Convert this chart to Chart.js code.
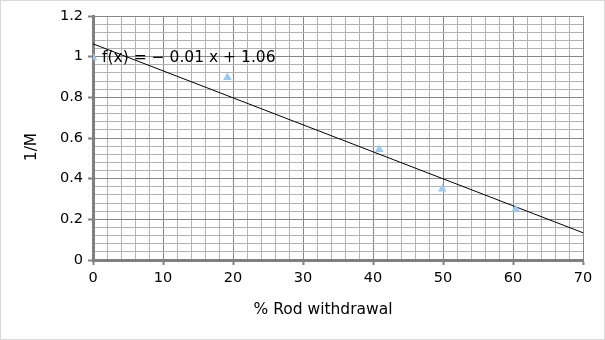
<!DOCTYPE html>
<html>
<head>
<meta charset="utf-8">
<script src="https://cdn.jsdelivr.net/npm/chart.js@4"></script>
<style>
  body { margin: 0; background: #fff; }
</style>
</head>
<body>
<canvas id="chart" width="605" height="340"></canvas>
<script>
// data
let rod_x = [0, 19.2, 40.9, 49.9, 60.4];
let inv_m = [0.995, 0.897, 0.544, 0.349, 0.249];
// trend line end points
let trend_x = [0, 70];
let trend_y = [1.063, 0.134];
let eq_text = 'f(x) = \u2212 0.01 x + 1.06';
let eq_pos = [1.3, 0.993];
let x_title = '% Rod withdrawal';
let y_title = '1/M';

var pts = [];
for (let i = 0; i < rod_x.length; i++) {
    pts.push({ x: rod_x[i], y: inv_m[i] });
}
var trend = [];
for (let i = 0; i < trend_x.length; i++) {
    trend.push({ x: trend_x[i], y: trend_y[i] });
}

function isMajor(v, step) {
    return Math.abs(v / step - Math.round(v / step)) < 1e-6;
}

// frame, axis titles, equation text
var extras = {
    id: 'extras',
    beforeDraw: function (chart) {
        var c = chart.ctx;
        c.save();
        c.strokeStyle = '#d9d9d9';
        c.lineWidth = 1;
        c.strokeRect(0.5, 0.5, 604, 339);
        c.fillStyle = '#000';
        c.font = '15.5px "DejaVu Sans"';
        c.textAlign = 'center';
        c.textBaseline = 'middle';
        c.fillText(x_title, 323, 310);
        c.translate(32, 147);
        c.rotate(-Math.PI / 2);
        c.fillText(y_title, 0, 0);
        c.restore();
    },
    afterDatasetsDraw: function (chart) {
        var c = chart.ctx;
        c.save();
        c.font = '15.5px "DejaVu Sans"';
        c.fillStyle = '#000';
        c.textBaseline = 'middle';
        c.fillText(eq_text, chart.scales.x.getPixelForValue(eq_pos[0]), chart.scales.y.getPixelForValue(eq_pos[1]));
        c.restore();
    }
};

let context = document.querySelector('#chart').getContext('2d');
new Chart(context, {
    type: 'scatter',
    data: {
        datasets: [{
            data: pts,
            pointStyle: 'triangle',
            pointRadius: 5,
            backgroundColor: '#99c9f7',
            borderColor: '#99c9f7',
            borderWidth: 0
        }, {
            data: trend,
            showLine: true,
            pointRadius: 0,
            borderColor: '#000',
            borderWidth: 1
        }]
    },
    options: {
        responsive: false,
        animation: false,
        layout: { padding: { top: 16, right: 22, left: 0, bottom: 0 } },
        plugins: { legend: { display: false }, tooltip: { enabled: false } },
        scales: {
            x: {
                type: 'linear',
                min: 0,
                max: 70,
                afterFit: function (s) { s.height = 80; },
                ticks: {
                    stepSize: 2,
                    autoSkip: false,
                    maxRotation: 0,
                    padding: 5,
                    color: '#000',
                    font: { family: 'DejaVu Sans', size: 14.5 },
                    callback: function (v) { return isMajor(v, 10) ? String(v) : ''; }
                },
                grid: {
                    color: function (ctx) { return isMajor(ctx.tick.value, 10) ? '#878787' : '#b3b3b3'; },
                    tickColor: function (ctx) { return isMajor(ctx.tick.value, 10) ? '#808080' : 'rgba(0,0,0,0)'; },
                    tickLength: 5,
                    tickWidth: 2,
                    lineWidth: 1
                },
                border: { color: '#808080', width: 3 }
            },
            y: {
                type: 'linear',
                min: 0,
                max: 1.2,
                afterFit: function (s) { s.width = 93; },
                ticks: {
                    stepSize: 0.04,
                    autoSkip: false,
                    padding: 5,
                    color: '#000',
                    font: { family: 'DejaVu Sans', size: 14.5 },
                    callback: function (v) { return isMajor(v, 0.2) ? String(Math.round(v * 10) / 10) : ''; }
                },
                grid: {
                    color: function (ctx) { return isMajor(ctx.tick.value, 0.2) ? '#878787' : '#b3b3b3'; },
                    tickColor: function (ctx) { return isMajor(ctx.tick.value, 0.2) ? '#808080' : 'rgba(0,0,0,0)'; },
                    tickLength: 5,
                    tickWidth: 2,
                    lineWidth: 1
                },
                border: { color: '#808080', width: 3 }
            }
        }
    },
    plugins: [extras]
});
</script>
</body>
</html>
